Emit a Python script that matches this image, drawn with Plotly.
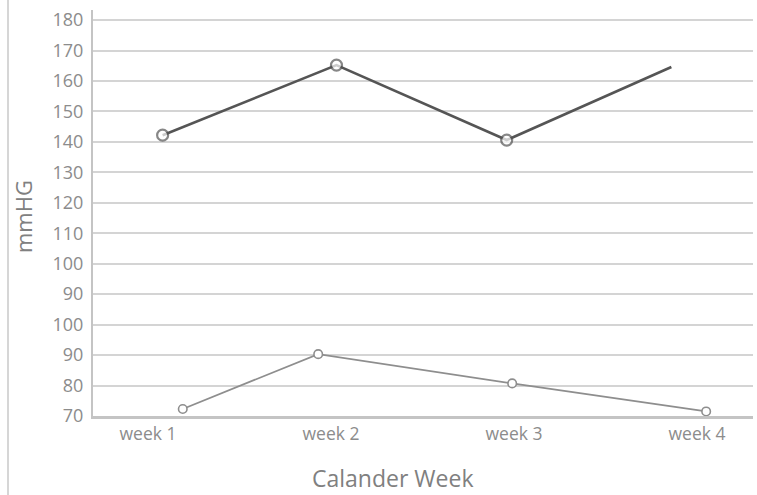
import plotly.graph_objects as go

# ---- data ----
week_labels = ["week 1", "week 2", "week 3", "week 4"]
week_ticks = [1, 2, 3, 4]

# y-axis tick labels as printed (bottom to top), the axis repeats 90/100
y_tick_labels = ["70", "80", "90", "100", "90", "100", "110", "120",
                 "130", "140", "150", "160", "170", "180"]

# upper (systolic) series: x positions in weeks, values in mmHG on upper scale
sys_x = [1.08, 2.03, 2.96, 3.86]
sys_val = [142.2, 165.2, 140.6, 164.6]
sys_marker = [True, True, True, False]

# lower (diastolic) series: x positions in weeks, values in mmHG on lower scale
dia_x = [1.19, 1.93, 2.99, 4.05]
dia_val = [72.3, 90.3, 80.7, 71.5]


def upper_pos(v):
    # upper part of the axis: label 90 sits at slot 4, 180 at slot 13
    return (v - 50.0) / 10.0


def lower_pos(v):
    # lower part of the axis: label 70 sits at slot 0
    return (v - 70.0) / 10.0


TXT = "#8c8c8c"
FONT = "Open Sans"

fig = go.Figure()

fig.add_trace(go.Scatter(
    x=sys_x, y=[upper_pos(v) for v in sys_val],
    mode="lines+markers",
    line=dict(color="#555555", width=2.6),
    marker=dict(symbol="circle", color="white",
                size=[11 if m else 0 for m in sys_marker],
                line=dict(color="#555555", width=2.2)),
    showlegend=False, cliponaxis=False,
))

fig.add_trace(go.Scatter(
    x=dia_x, y=[lower_pos(v) for v in dia_val],
    mode="lines+markers",
    line=dict(color="#8e8e8e", width=1.8),
    marker=dict(symbol="circle", color="white", size=8.5,
                line=dict(color="#8e8e8e", width=1.6)),
    showlegend=False, cliponaxis=False,
))

fig.update_layout(
    width=757, height=495,
    margin=dict(l=93, r=4, t=10, b=79),
    paper_bgcolor="white", plot_bgcolor="white",
    font=dict(family=FONT, color=TXT),
    xaxis=dict(
        range=[0.6995, 4.306],
        tickvals=week_ticks, ticktext=week_labels,
        tickfont=dict(size=17.5, color=TXT, family=FONT),
        showgrid=False, zeroline=False,
        showline=True, linecolor="#c4c4c4", linewidth=2.5,
        ticks="", fixedrange=True,
    ),
    yaxis=dict(
        range=[0, 13.33],
        tickvals=list(range(len(y_tick_labels))), ticktext=y_tick_labels,
        tickfont=dict(size=18, color=TXT, family=FONT),
        showgrid=True, gridcolor="#d4d4d4", gridwidth=1.6,
        zeroline=False,
        showline=True, linecolor="#c4c4c4", linewidth=2,
        ticks="", ticklabelstandoff=4,
    ),
    annotations=[
        dict(text="Calander Week", xref="paper", yref="paper",
             x=(392 - 93) / 660, y=0, yshift=-62,
             xanchor="center", yanchor="middle", showarrow=False,
             borderpad=0,
             font=dict(size=23, color="#808080", family=FONT)),
        dict(text="mmHG", xref="paper", yref="paper",
             x=(23 - 93) / 660, y=0.49, textangle=-90,
             xanchor="center", yanchor="middle", showarrow=False,
             font=dict(size=22, color="#808080", family=FONT)),
    ],
    shapes=[
        dict(type="line", xref="paper", yref="paper",
             x0=(8 - 93) / 660, x1=(8 - 93) / 660,
             y0=-79 / 406, y1=1 + 10 / 406,
             line=dict(color="#c8c8c8", width=1.5)),
    ],
)

fig.write_html(
    "out.html",
    config={"displayModeBar": False},
    post_script="document.body.style.margin='0';"
                "document.body.style.overflow='hidden';",
)
